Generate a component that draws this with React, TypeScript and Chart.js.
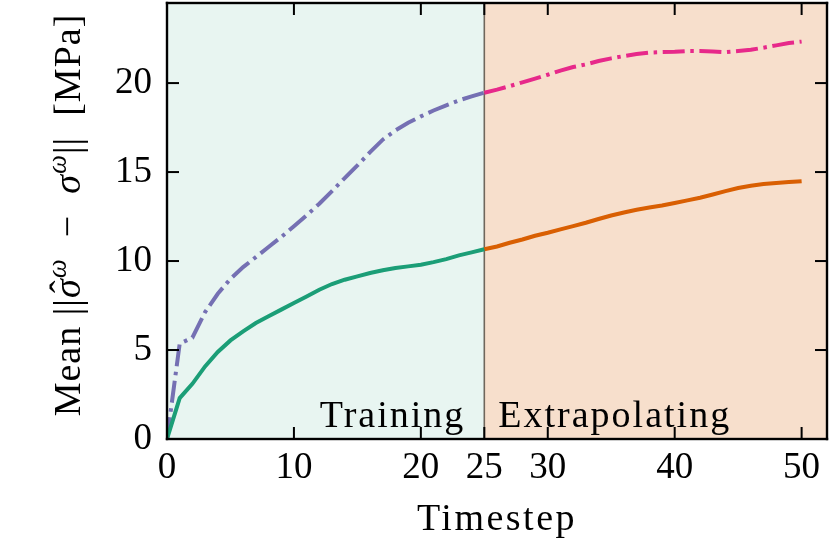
import { useEffect, useRef } from "react"
import { Chart, registerables } from "chart.js"

Chart.register(...registerables)

// timesteps seen during training and during extrapolation
const trainSteps = [0, 1, 2, 3, 4, 5, 6, 7, 8, 9, 10, 11, 12, 13, 14, 15, 16, 17, 18, 19, 20, 21, 22, 23, 24, 25]
const extraSteps = [25, 26, 27, 28, 29, 30, 31, 32, 33, 34, 35, 36, 37, 38, 39, 40, 41, 42, 43, 44, 45, 46, 47, 48, 49, 50]

// solid curve (green while training, orange while extrapolating)
const trainSolid = [
  0, 2.3, 3.1, 4.08, 4.89, 5.54, 6.05, 6.52, 6.9, 7.27, 7.64, 8.01, 8.39, 8.71, 8.95, 9.14, 9.33, 9.48, 9.61, 9.7,
  9.79, 9.94, 10.11, 10.32, 10.49, 10.66,
]
const extraSolid = [
  10.66, 10.82, 11.03, 11.21, 11.42, 11.59, 11.78, 11.96, 12.15, 12.36, 12.56, 12.73, 12.88, 13.01, 13.12, 13.26,
  13.41, 13.56, 13.74, 13.93, 14.1, 14.23, 14.33, 14.38, 14.44, 14.49,
]

// dash-dot curve (purple while training, pink while extrapolating)
const trainDashed = [
  0, 5.36, 5.69, 7.13, 8.16, 9.0, 9.66, 10.22, 10.79, 11.35, 11.95, 12.57, 13.22, 13.93, 14.66, 15.37, 16.12, 16.82,
  17.34, 17.77, 18.13, 18.46, 18.75, 19.03, 19.25, 19.46,
]
const extraDashed = [
  19.46, 19.63, 19.83, 20.04, 20.25, 20.47, 20.7, 20.9, 21.05, 21.24, 21.39, 21.52, 21.63, 21.71, 21.74, 21.76, 21.8,
  21.8, 21.78, 21.74, 21.8, 21.87, 21.99, 22.12, 22.25, 22.33,
]

const xTicks = [0, 10, 20, 25, 30, 40, 50]
const yTicks = [0, 5, 10, 15, 20]
const splitStep = 25

const FONT = "'Liberation Serif', 'Times New Roman', serif"
const dashDot = [22, 5.6, 3.5, 5.6]

const toPoints = (steps: number[], values: number[]) => steps.map((x, i) => ({ x, y: values[i] }))

// shaded regions and the split line, behind the curves
const regionsPlugin = {
  id: "regions",
  beforeDatasetsDraw(chart: any) {
    const { ctx, chartArea, scales } = chart
    const { left, right, top, bottom } = chartArea
    const xs = scales.x.getPixelForValue(splitStep)
    ctx.save()
    ctx.fillStyle = "rgba(27, 158, 119, 0.1)"
    ctx.fillRect(left, top, xs - left, bottom - top)
    ctx.fillStyle = "rgba(217, 95, 2, 0.2)"
    ctx.fillRect(xs, top, right - xs, bottom - top)
    ctx.fillStyle = "rgba(80, 70, 60, 0.8)"
    ctx.fillRect(xs - 0.8, top, 1.6, bottom - top)
    ctx.restore()
  },
}

// frame, inward ticks, region labels and the axis titles
const framePlugin = {
  id: "frame",
  afterDraw(chart: any) {
    const { ctx, chartArea, scales } = chart
    const { left, right, top, bottom } = chartArea
    ctx.save()
    ctx.fillStyle = "#000000"
    const tw = 2
    const tl = 12
    for (const v of xTicks) {
      const px = scales.x.getPixelForValue(v)
      ctx.fillRect(px - tw / 2, bottom - tl, tw, tl)
      ctx.fillRect(px - tw / 2, top, tw, tl)
    }
    for (const v of yTicks) {
      const py = scales.y.getPixelForValue(v)
      ctx.fillRect(left, py - tw / 2, tl, tw)
      ctx.fillRect(right - tl, py - tw / 2, tl, tw)
    }
    const bw = 2.4
    ctx.fillRect(left - bw / 2, top - bw / 2, right - left + bw, bw)
    ctx.fillRect(left - bw / 2, bottom - bw / 2, right - left + bw, bw)
    ctx.fillRect(left - bw / 2, top - bw / 2, bw, bottom - top + bw)
    ctx.fillRect(right - bw / 2, top - bw / 2, bw, bottom - top + bw)

    const xs = scales.x.getPixelForValue(splitStep)
    ctx.font = `38px ${FONT}`
    ctx.letterSpacing = "2px"
    ctx.textBaseline = "alphabetic"
    ctx.textAlign = "right"
    ctx.fillText("Training", xs - 19, bottom - 12)
    ctx.textAlign = "left"
    ctx.fillText("Extrapolating", xs + 14, bottom - 12)

    // x-axis title
    ctx.textAlign = "center"
    ctx.letterSpacing = "2.5px"
    ctx.fillText("Timestep", (left + right) / 2, 530)

    // y-axis title with italic symbols and superscripts
    ctx.letterSpacing = "1px"
    ctx.textAlign = "left"
    const roman = `38px ${FONT}`
    const italic = `italic 38px ${FONT}`
    const sup = `italic 27px ${FONT}`
    const parts = [
      { t: "Mean |", f: roman, dy: 0, hat: false },
      { t: "|", f: roman, dy: 0, hat: false },
      { t: "σ", f: italic, dy: 0, hat: true },
      { t: "ω", f: sup, dy: -14, hat: false },
      { t: "  −  ", f: roman, dy: 0, hat: false },
      { t: "σ", f: italic, dy: 0, hat: false },
      { t: "ω", f: sup, dy: -14, hat: false },
      { t: "|", f: roman, dy: 0, hat: false },
      { t: "|  [MPa]", f: roman, dy: 0, hat: false },
    ]
    let total = 0
    const widths = parts.map((p) => {
      ctx.font = p.f
      const w = ctx.measureText(p.t).width
      total += w
      return w
    })
    ctx.translate(80, 215)
    ctx.rotate(-Math.PI / 2)
    let x = -total / 2
    parts.forEach((p, i) => {
      ctx.font = p.f
      ctx.fillText(p.t, x, p.dy)
      if (p.hat) {
        ctx.font = roman
        ctx.textAlign = "center"
        ctx.fillText("ˆ", x + widths[i] / 2 + 2, -4)
        ctx.textAlign = "left"
      }
      x += widths[i]
    })
    ctx.restore()
  },
}

export default function App() {
  const chartRef = useRef<HTMLCanvasElement>(null)

  useEffect(() => {
    document.body.style.margin = "0"
    if (!chartRef.current) return

    const tickFont = { family: FONT, size: 37 }

    const chart = new Chart(chartRef.current, {
      type: "line",
      data: {
        datasets: [
          {
            label: "train solid",
            data: toPoints(trainSteps, trainSolid),
            borderColor: "#1b9e77",
            borderWidth: 4,
            pointRadius: 0,
          },
          {
            label: "train dashed",
            data: toPoints(trainSteps, trainDashed),
            borderColor: "#7570b3",
            borderWidth: 4,
            borderDash: dashDot,
            pointRadius: 0,
          },
          {
            label: "extrapolate solid",
            data: toPoints(extraSteps, extraSolid),
            borderColor: "#d95f02",
            borderWidth: 4,
            pointRadius: 0,
          },
          {
            label: "extrapolate dashed",
            data: toPoints(extraSteps, extraDashed),
            borderColor: "#e7298a",
            borderWidth: 4,
            borderDash: dashDot,
            pointRadius: 0,
          },
        ],
      },
      options: {
        animation: false,
        responsive: true,
        maintainAspectRatio: false,
        layout: { padding: { top: 3, right: 2, left: 0, bottom: 0 } },
        plugins: {
          legend: { display: false },
          tooltip: { enabled: false },
        },
        scales: {
          x: {
            type: "linear",
            min: 0,
            max: 52,
            grid: { display: false, drawTicks: false },
            border: { display: false },
            afterBuildTicks: (scale: any) => {
              scale.ticks = xTicks.map((value) => ({ value }))
            },
            afterFit: (scale: any) => {
              scale.height = 102
              scale.paddingLeft = 0
              scale.paddingRight = 0
            },
            ticks: { color: "#000", font: tickFont, padding: 7, maxRotation: 0, autoSkip: false },
          },
          y: {
            min: 0,
            max: 24.5,
            grid: { display: false, drawTicks: false },
            border: { display: false },
            afterBuildTicks: (scale: any) => {
              scale.ticks = yTicks.map((value) => ({ value }))
            },
            afterFit: (scale: any) => {
              scale.width = 167
              scale.paddingTop = 0
              scale.paddingBottom = 0
            },
            ticks: { color: "#000", font: tickFont, padding: 15 },
          },
        },
      },
      plugins: [regionsPlugin, framePlugin],
    })

    return () => {
      chart.destroy()
    }
  }, [])

  return (
    <div style={{ width: 829, height: 541, position: "relative" }}>
      <canvas ref={chartRef} />
    </div>
  )
}
